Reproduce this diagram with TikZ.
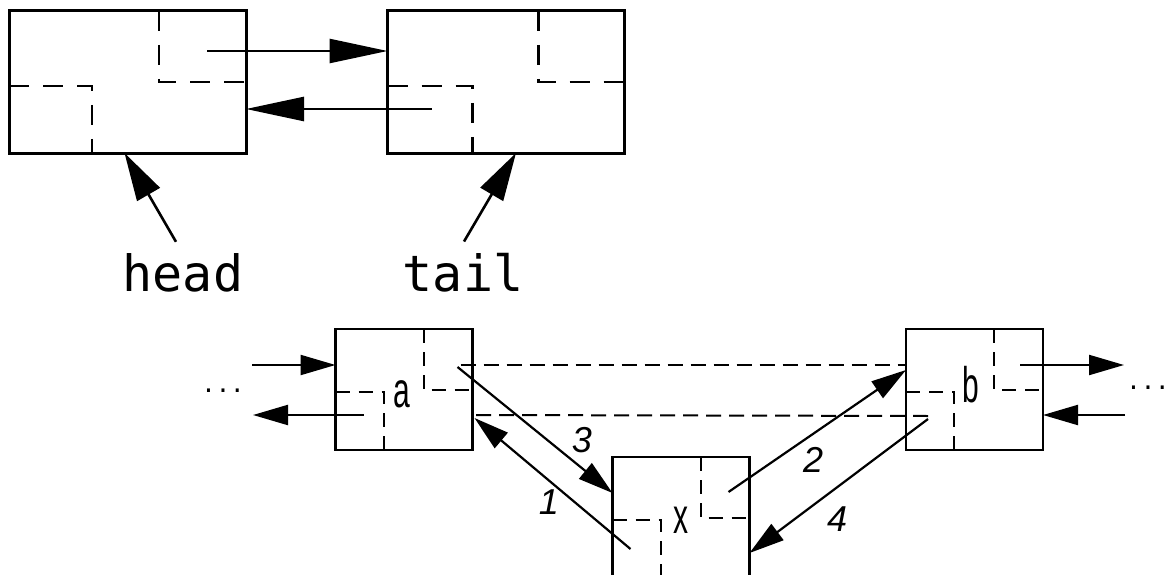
\documentclass[tikz,border=0pt]{standalone}
\usepackage{fontspec}
\setmainfont{Liberation Sans}
\newfontfamily\monofont{DejaVu Sans Mono}
\newfontfamily\labfont[FakeStretch=0.6]{Liberation Sans}
\usetikzlibrary{arrows.meta,calc}
\tikzset{
  bigbox/.style={draw, line width=3pt, minimum width=237pt, minimum height=142pt, inner sep=0pt, outer sep=0pt},
  smallbox/.style={draw, line width=2.2pt, minimum width=137pt, minimum height=121pt, inner sep=0pt, outer sep=0pt},
  bigpart/.style={line width=2.8pt, dash pattern=on 20pt off 14pt},
  smallpart/.style={line width=2pt, dash pattern=on 14pt off 9pt},
  bigarrow/.style={line width=2.6pt, -{Triangle[length=58pt,width=24pt]}},
  ptrarrow/.style={line width=2.6pt, -{Triangle[length=48pt,width=26pt]}},
  arr/.style={line width=2.2pt, -{Triangle[length=35pt,width=20pt]}},
  oldlink/.style={line width=2pt, dash pattern=on 15pt off 8pt},
  ptrtext/.style={inner sep=0pt, font=\monofont\fontsize{50}{60}\selectfont},
  lab/.style={inner sep=0pt, font=\labfont\fontsize{50}{54}\selectfont},
  num/.style={inner sep=0pt, font=\itshape\fontsize{36}{40}\selectfont},
  dots/.style={inner sep=0pt, font=\monofont\fontsize{24}{24}\selectfont}
}
\begin{document}
\begin{tikzpicture}[x=1pt,y=-1pt]
\useasboundingbox (0,0) rectangle (1172,575);
\clip (0,0) rectangle (1172,575);

% ---------- top: head / tail ----------
\node[bigbox] (n1) at (127.5,82) {};
\node[bigbox] (n2) at (506,82) {};
\draw[bigpart] ($(n1.north west)+(150,0)$) -- ++(0,71) -- ($(n1.north east)+(0,71)$);
\draw[bigpart] ($(n1.north west)+(0,75)$) -- ++(83,0) -- ($(n1.south west)+(83,0)$);
\draw[bigpart] ($(n2.north west)+(151,0)$) -- ++(0,71) -- ($(n2.north east)+(0,71)$);
\draw[bigpart] ($(n2.north west)+(0,75)$) -- ++(85,0) -- ($(n2.south west)+(85,0)$);

\coordinate (n1next) at ($(n1.north west)+(198,40)$);
\coordinate (n2prev) at ($(n2.north west)+(44,98)$);
\draw[bigarrow] (n1next) -- (n1next -| n2.west);
\draw[bigarrow] (n2prev) -- (n2prev -| n1.east);

\node[ptrtext, anchor=base] (hd) at (183,291) {head};
\node[ptrtext, anchor=base] (tl) at (463,291) {tail};
\draw[ptrarrow] ($(hd.north)+(-7,-11)$) -- ($(n1.south)+(-3,0)$);
\draw[ptrarrow] ($(tl.north)+(1,-11)$) -- ($(n2.south)+(10,0)$);

% ---------- bottom: insertion ----------
\node[smallbox] (a) at (404,389.5) {};
\node[smallbox] (b) at (974.5,389.5) {};
\node[smallbox] (x) at (681,517.5) {};
\foreach \n in {a,b,x}{
  \draw[smallpart] ($(\n.north west)+(88,0)$) -- ++(0,61) -- ($(\n.north east)+(0,61)$);
  \draw[smallpart] ($(\n.north west)+(0,63)$) -- ++(48,0) -- ($(\n.south west)+(48,0)$);
}
\node[lab, anchor=base] (la) at (402,407) {a};
\node[lab, anchor=base] (lb) at (971,402) {b};
\node[lab, anchor=base] (lx) at (681,533) {x};

\coordinate (anext) at ($(a.north west)+(125,36)$);
\coordinate (aprev) at ($(a.north west)+(28,86)$);
\coordinate (bnext) at ($(b.north west)+(114,36)$);
\coordinate (bprev) at ($(b.north west)+(22,87)$);
\coordinate (xnext) at ($(x.north west)+(116,35)$);
\coordinate (xprev) at ($(x.north west)+(18,92)$);
\coordinate (leftin) at (252,365);
\coordinate (leftout) at (253,415);
\coordinate (rightout) at (1124,365);
\coordinate (rightin) at (1125,415);

% neighbours
\draw[arr] (leftin) -- ($(a.north west)+(0,36)$);
\draw[arr] (aprev) -- (leftout);
\draw[arr] (bnext) -- (rightout);
\draw[arr] (rightin) -- ($(b.north east)+(0,86)$);

% old links
\draw[oldlink] (anext) -- ($(b.north west)+(0,36)$);
\draw[oldlink] (bprev) -- ($(a.north east)+(3,86)$);

% new links
\draw[arr] (xprev) -- ($(a.south east)+(2,-32)$);
\draw[arr] (xnext) -- ($(b.north west)+(0,41)$);
\draw[arr] ($(anext)+(-3,2)$) -- ($(x.north west)+(0,36)$);
\draw[arr] ($(bprev)+(0,3)$) -- ($(x.north east)+(0,96)$);

\node[num] (k1) at (549,502) {1};
\node[num] (k2) at (813,460) {2};
\node[num] (k3) at (582,440) {3};
\node[num] (k4) at (837,519) {4};

\node[dots] (dl) at (223,391) {...};
\node[dots] (dr) at (1148,388) {...};
\end{tikzpicture}
\end{document}
